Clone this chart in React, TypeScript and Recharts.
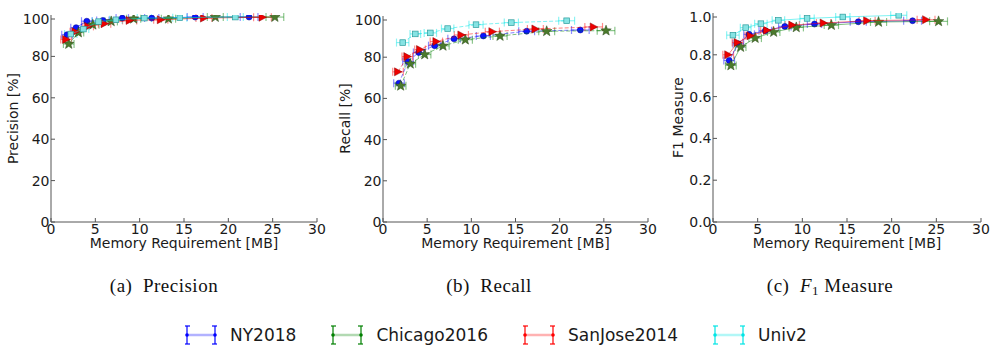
import React from 'react';
import { ScatterChart, Scatter, XAxis, YAxis, ErrorBar } from 'recharts';

const xTicks = [0, 5, 10, 15, 20, 25, 30];
const pctTicks = [0, 20, 40, 60, 80, 100];
const f1Ticks = [0, 0.2, 0.4, 0.6, 0.8, 1.0];

const seriesNames = ['NY2018', 'Chicago2016', 'SanJose2014', 'Univ2'];

// memory requirement [MB] of each configuration, and its spread
const nyMem = [1.81, 2.83, 4.04, 5.85, 8.04, 11.36, 16.26, 22.34];
const chicagoMem = [2.0, 3.09, 4.72, 6.79, 9.32, 13.25, 18.53, 25.25];
const sanjoseMem = [1.7, 2.75, 4.19, 6.04, 8.87, 12.38, 17.25, 23.85];
const univMem = [2.23, 3.66, 5.36, 7.32, 10.53, 14.53, 20.79];

const nyErr = [0.6, 0.6, 0.6, 0.7, 0.7, 0.8, 0.9, 1.0];
const chicagoErr = [0.6, 0.6, 0.7, 0.7, 0.8, 0.8, 0.9, 1.0];
const sanjoseErr = [0.6, 0.6, 0.6, 0.7, 0.8, 0.8, 0.9, 1.0];
const univErr = [0.7, 0.6, 0.7, 0.7, 0.8, 0.8, 0.9];

// precision [%]
const nyPrec = [90.5, 93.9, 97.0, 97.4, 98.5, 98.5, 99.0, 99.0];
const chicagoPrec = [86.0, 91.5, 95.3, 96.9, 98.2, 98.2, 99.0, 99.0];
const sanjosePrec = [88.2, 91.9, 94.5, 95.8, 97.4, 97.7, 98.5, 98.9];
const univPrec = [90.8, 93.2, 96.8, 97.7, 98.5, 98.7, 99.0];

// recall [%]
const nyRec = [67.4, 77.9, 82.3, 85.6, 88.9, 90.3, 92.6, 93.2];
const chicagoRec = [66.1, 76.8, 81.3, 85.5, 88.5, 90.3, 92.6, 92.9];
const sanjoseRec = [72.9, 80.3, 83.7, 87.6, 90.8, 92.4, 93.7, 94.7];
const univRec = [87.1, 91.3, 91.8, 93.9, 95.8, 96.8, 97.7];

// F1 measure
const nyF1 = [0.773, 0.853, 0.898, 0.915, 0.936, 0.947, 0.958, 0.963];
const chicagoF1 = [0.749, 0.837, 0.88, 0.909, 0.931, 0.942, 0.957, 0.96];
const sanjoseF1 = [0.8, 0.859, 0.891, 0.917, 0.942, 0.952, 0.963, 0.968];
const univF1 = [0.894, 0.93, 0.949, 0.965, 0.974, 0.981, 0.989];

const FRAME = '#555';
const TEXT = '#1a1a1a';
const SANS = '"DejaVu Sans", sans-serif';
const SERIF = '"Liberation Serif", serif';

const colors = ['#0000ff', '#008000', '#ff0000', '#00e5e5'];

const Circle = (p: any) => (
  <circle cx={p.cx} cy={p.cy} r={3} fill="#0a14ff" stroke="#00008b" strokeWidth={0.5} />
);

const Star = (p: any) => {
  const pts: string[] = [];
  for (let i = 0; i < 10; i++) {
    const r = i % 2 === 0 ? 5.5 : 2.3;
    const a = -Math.PI / 2 + (i * Math.PI) / 5;
    pts.push(`${p.cx + r * Math.cos(a)},${p.cy + r * Math.sin(a)}`);
  }
  return <polygon points={pts.join(' ')} fill="#4b7a2c" stroke="#2c4a1a" strokeWidth={0.5} />;
};

const TriRight = (p: any) => (
  <path
    d={`M${p.cx - 3.5},${p.cy - 4} L${p.cx + 4},${p.cy} L${p.cx - 3.5},${p.cy + 4} Z`}
    fill="#ee0000"
    stroke="#8b0000"
    strokeWidth={0.5}
  />
);

const Square = (p: any) => (
  <rect x={p.cx - 2.8} y={p.cy - 2.8} width={5.6} height={5.6} fill="#86e3e3" stroke="#2a9c9c" strokeWidth={0.7} />
);

const shapes = [Circle, Star, TriRight, Square];

const rows = (mem: number[], err: number[], val: number[]) =>
  mem.map((x, i) => ({ x, xerr: err[i], y: val[i] }));

const BottomTick = ({ x, y, payload }: any) => (
  <g>
    <line x1={x} x2={x} y1={y} y2={y - 4} stroke={FRAME} />
    <text x={x} y={y + 11.5} textAnchor="middle" fontSize={14} fontFamily={SANS} fill={TEXT}>
      {payload.value}
    </text>
  </g>
);

const makeLeftTick = (fmt: (v: number) => string) => ({ x, y, payload }: any) => (
  <g>
    <line x1={x} x2={x + 4} y1={y} y2={y} stroke={FRAME} />
    <text x={x - 1.5} y={y} dy="0.36em" textAnchor="end" fontSize={14} fontFamily={SANS} fill={TEXT}>
      {fmt(payload.value)}
    </text>
  </g>
);

const TopTick = ({ x, y }: any) => <line x1={x} x2={x} y1={y} y2={y + 4} stroke={FRAME} />;
const RightTick = ({ x, y }: any) => <line x1={x} x2={x - 4} y1={y} y2={y} stroke={FRAME} />;

interface PanelProps {
  left: number;
  top: number;
  w: number;
  h: number;
  yMax: number;
  yTicks: number[];
  yFmt: (v: number) => string;
  dashed: boolean;
  series: { x: number; xerr: number; y: number }[][];
}

const Panel: React.FC<PanelProps> = ({ left, top, w, h, yMax, yTicks, yFmt, dashed, series }) => {
  const Y = 50;
  const mt = 5;
  const mr = 10;
  const xh = 30;
  return (
    <div style={{ position: 'absolute', left: left - Y, top: top - mt }}>
      <ScatterChart width={Y + w + mr} height={mt + h + xh} margin={{ top: mt, right: mr, bottom: 0, left: 0 }}>
        <XAxis
          dataKey="x"
          type="number"
          domain={[0, 30]}
          ticks={xTicks}
          allowDataOverflow
          height={xh}
          tickSize={0}
          tickMargin={0}
          tick={BottomTick}
          axisLine={{ stroke: FRAME }}
        />
        <XAxis
          xAxisId="top"
          orientation="top"
          type="number"
          domain={[0, 30]}
          ticks={xTicks}
          allowDataOverflow
          height={0}
          tickSize={0}
          tickMargin={0}
          tick={TopTick}
          axisLine={{ stroke: FRAME }}
        />
        <YAxis
          dataKey="y"
          type="number"
          domain={[0, yMax]}
          ticks={yTicks}
          allowDataOverflow
          width={Y}
          tickSize={0}
          tickMargin={0}
          tick={makeLeftTick(yFmt)}
          axisLine={{ stroke: FRAME }}
        />
        <YAxis
          yAxisId="right"
          orientation="right"
          type="number"
          domain={[0, yMax]}
          ticks={yTicks}
          allowDataOverflow
          width={0}
          tickSize={0}
          tickMargin={0}
          tick={RightTick}
          axisLine={{ stroke: FRAME }}
        />
        {series.map((data, i) => (
          <Scatter
            key={seriesNames[i]}
            name={seriesNames[i]}
            data={data}
            fill={colors[i]}
            shape={shapes[i]}
            line={{
              stroke: colors[i],
              strokeOpacity: 0.5,
              strokeWidth: 1,
              strokeDasharray: dashed ? '4 2' : undefined,
            }}
            lineType="joint"
            isAnimationActive={false}
          >
            <ErrorBar
              dataKey="xerr"
              direction="x"
              width={4}
              stroke={colors[i]}
              strokeOpacity={0.45}
              strokeWidth={1.2}
              isAnimationActive={false}
            />
          </Scatter>
        ))}
      </ScatterChart>
    </div>
  );
};

const LegendIcon: React.FC<{ color: string }> = ({ color }) => (
  <svg width={32} height={20} style={{ display: 'block' }}>
    <line x1={2} x2={30} y1={10} y2={10} stroke={color} strokeOpacity={0.3} strokeWidth={2.5} />
    {[2, 30].map((cx) => (
      <g key={cx}>
        <line x1={cx} x2={cx} y1={1} y2={19} stroke={color} strokeWidth={1.2} />
        <line x1={cx - 3} x2={cx + 3} y1={1} y2={1} stroke={color} strokeWidth={1.2} />
        <line x1={cx - 3} x2={cx + 3} y1={19} y2={19} stroke={color} strokeWidth={1.2} />
        <circle cx={cx} cy={10} r={1.8} fill={color} />
      </g>
    ))}
  </svg>
);

const captionStyle: React.CSSProperties = {
  position: 'absolute',
  width: 300,
  top: 275,
  textAlign: 'center',
  fontFamily: SERIF,
  fontSize: 19,
  letterSpacing: 0.5,
  lineHeight: '22px',
  color: '#111',
  whiteSpace: 'pre',
};

export default function App() {
  const precSeries = [
    rows(nyMem, nyErr, nyPrec),
    rows(chicagoMem, chicagoErr, chicagoPrec),
    rows(sanjoseMem, sanjoseErr, sanjosePrec),
    rows(univMem, univErr, univPrec),
  ];
  const recSeries = [
    rows(nyMem, nyErr, nyRec),
    rows(chicagoMem, chicagoErr, chicagoRec),
    rows(sanjoseMem, sanjoseErr, sanjoseRec),
    rows(univMem, univErr, univRec),
  ];
  const f1Series = [
    rows(nyMem, nyErr, nyF1),
    rows(chicagoMem, chicagoErr, chicagoF1),
    rows(sanjoseMem, sanjoseErr, sanjoseF1),
    rows(univMem, univErr, univF1),
  ];
  const pct = (v: number) => String(v);
  const dec = (v: number) => v.toFixed(1);

  return (
    <div style={{ position: 'absolute', left: 0, top: 0, width: 1000, height: 349, background: '#fff', overflow: 'hidden' }}>
      <Panel left={51} top={15} w={266} h={207} yMax={100} yTicks={pctTicks} yFmt={pct} dashed={false} series={precSeries} />
      <Panel left={383} top={16} w={265} h={206} yMax={100} yTicks={pctTicks} yFmt={pct} dashed series={recSeries} />
      <Panel left={713} top={13} w={268} h={209} yMax={1} yTicks={f1Ticks} yFmt={dec} dashed={false} series={f1Series} />

      <svg width={1000} height={349} style={{ position: 'absolute', left: 0, top: 0, pointerEvents: 'none' }}>
        <g fontFamily={SANS} fontSize={14} fill={TEXT} textAnchor="middle">
          <text x={184} y={243} dominantBaseline="central">Memory Requirement [MB]</text>
          <text x={515.5} y={243} dominantBaseline="central">Memory Requirement [MB]</text>
          <text x={847} y={243} dominantBaseline="central">Memory Requirement [MB]</text>
          <text transform="translate(12.5,118.5) rotate(-90)" dominantBaseline="central">Precision [%]</text>
          <text transform="translate(345,118.5) rotate(-90)" dominantBaseline="central">Recall [%]</text>
          <text transform="translate(678,117.5) rotate(-90)" dominantBaseline="central">F1 Measure</text>
        </g>
      </svg>

      <div style={{ ...captionStyle, left: 164 - 150 }}>(a)  Precision</div>
      <div style={{ ...captionStyle, left: 489 - 150 }}>(b)  Recall</div>
      <div style={{ ...captionStyle, left: 830 - 150 }}>
        (c)  <i>F</i>
        <span style={{ fontSize: 13, verticalAlign: -3 }}>1</span> Measure
      </div>

      <div
        style={{
          position: 'absolute',
          left: 185,
          top: 325,
          display: 'flex',
          alignItems: 'center',
          fontFamily: SANS,
          fontSize: 17,
          color: TEXT,
          lineHeight: '20px',
        }}
      >
        {seriesNames.map((name, i) => (
          <div key={name} style={{ display: 'flex', alignItems: 'center', marginRight: 35 }}>
            <LegendIcon color={colors[i]} />
            <span style={{ marginLeft: 13 }}>{name}</span>
          </div>
        ))}
      </div>
    </div>
  );
}
